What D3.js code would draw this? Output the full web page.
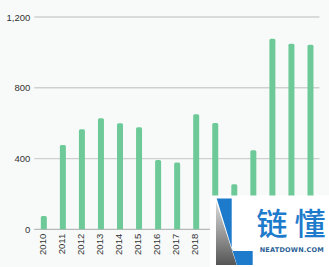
<!DOCTYPE html>
<html><head><meta charset="utf-8">
<script src="https://cdn.jsdelivr.net/npm/d3@7"></script>
<style>html,body{margin:0;padding:0;background:#f8fafa;}svg{display:block;}</style>
</head><body>
<script>
const years = ["2010","2011","2012","2013","2014","2015","2016","2017","2018","2019","2020","2021","2022","2023","2024"];
const values = [75,477,566,628,600,577,392,377,650,601,254,447,1077,1049,1043];
const yTicks = [0,400,800,1200];

const W=329,H=267;
const svg=d3.select("body").append("svg").attr("width",W).attr("height",H);
svg.append("rect").attr("width",W).attr("height",H).attr("fill","#f8fafa");

const x=d3.scaleBand().domain(years).range([34.3,320]).paddingInner(0.685).paddingOuter(0.3425);
const y=d3.scaleLinear().domain([0,1200]).range([229.3,17]);

const yAxis=d3.axisLeft(y).tickValues(yTicks).tickSize(0).tickPadding(4).tickFormat(d3.format(","));
const gy=svg.append("g").attr("transform","translate(34.3,0)").call(yAxis);
gy.select(".domain").remove();
gy.selectAll("text").attr("font-family","Liberation Sans, Arial, sans-serif").attr("font-size","9.5px").attr("fill","#333");

svg.append("g").selectAll("line").data(yTicks).join("line")
  .attr("x1",34.3).attr("x2",319.5).attr("y1",d=>y(d)).attr("y2",d=>y(d))
  .attr("stroke",d=>d===0?"#b8b8b8":"#cfcfcf").attr("stroke-width",1.3);

const r=1.5;
svg.append("g").selectAll("path").data(years).join("path")
  .attr("fill","#6dca98")
  .attr("d",(d,i)=>{
    const x0=x(d),w=x.bandwidth(),y0=y(values[i]),yb=y(0);
    return `M${x0},${yb}L${x0},${y0+r}Q${x0},${y0} ${x0+r},${y0}L${x0+w-r},${y0}Q${x0+w},${y0} ${x0+w},${y0+r}L${x0+w},${yb}Z`;
  });

const xAxis=d3.axisBottom(x).tickSize(0).tickPadding(0);
const gx=svg.append("g").attr("transform","translate(0,229.3)").call(xAxis);
gx.select(".domain").remove();
gx.selectAll("text").attr("font-family","Liberation Sans, Arial, sans-serif").attr("font-size","9.5px").attr("fill","#333")
  .attr("transform","rotate(-90)").attr("text-anchor","end").attr("x",-4.5).attr("y",0).attr("dy","0.2em")
  .attr("dx",0);

// watermark overlay
const wm=svg.append("g");
wm.append("rect").attr("x",210).attr("y",195.5).attr("width",119).attr("height",72).attr("fill","#ffffff");
const defs=svg.append("defs");
const lg=defs.append("linearGradient").attr("id","gg").attr("x1",0).attr("y1",0).attr("x2",0).attr("y2",1);
lg.append("stop").attr("offset","0").attr("stop-color","#dcdcdc");
lg.append("stop").attr("offset","1").attr("stop-color","#555");
wm.append("path").attr("d","M216,201.5L216,265L236.7,265Z").attr("fill","url(#gg)");
wm.append("path").attr("d","M216.7,198.5L231.7,198.5L231.7,251L252.7,251L252.7,265L236.9,265Z").attr("fill","#1e7acb");
wm.append("text").attr("x",256.5).attr("y",235).attr("font-family","Noto Sans CJK SC").attr("font-size","31px").attr("font-weight","500")
  .attr("fill","#1e7acb").attr("textLength",69).attr("lengthAdjust","spacing").text("链懂");
wm.append("text").attr("x",259.7).attr("y",252).attr("font-family","DejaVu Sans, sans-serif").attr("font-size","6.5px").attr("font-weight","bold")
  .attr("fill","#2a5f95").attr("textLength",64).attr("lengthAdjust","spacing").text("NEATDOWN.COM");
</script>
</body></html>
